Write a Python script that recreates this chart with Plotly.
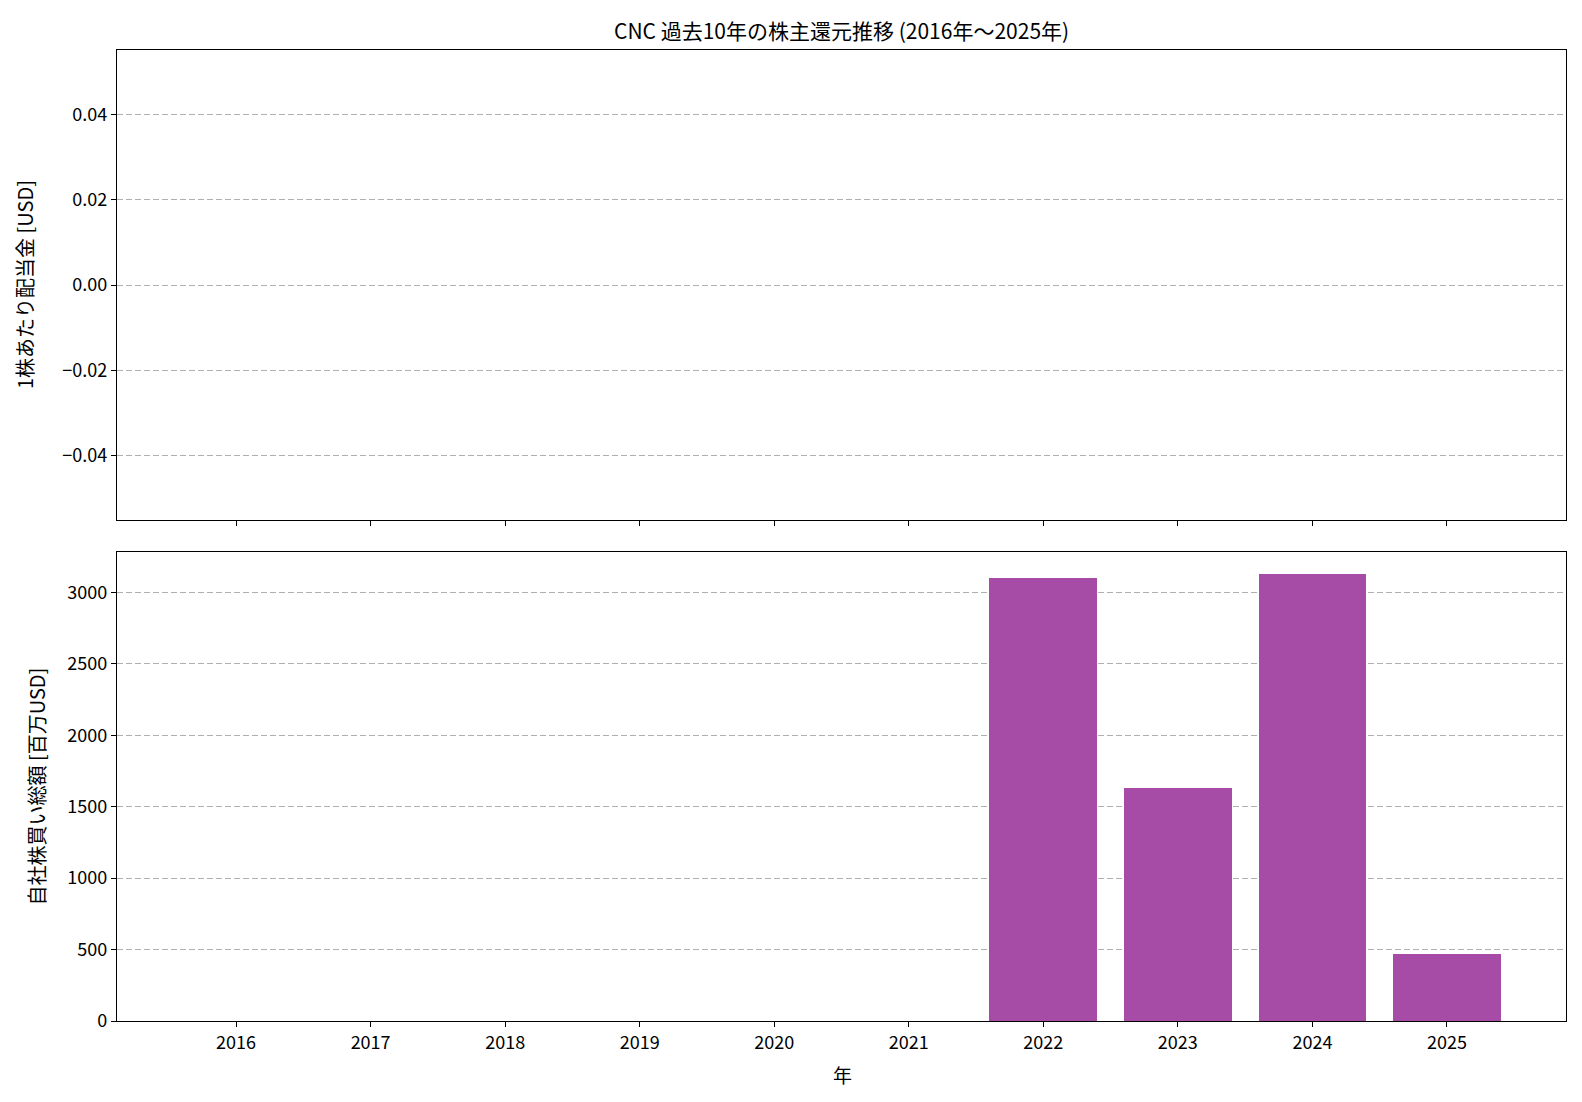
import plotly.graph_objects as go

years = [2016, 2017, 2018, 2019, 2020, 2021, 2022, 2023, 2024, 2025]
dividends_usd = [None, None, None, None, None, None, None, None, None, None]
buybacks_musd = [0, 0, 0, 0, 0, 0, 3098, 1628, 3126, 471]

title_text = "CNC 過去10年の株主還元推移 (2016年～2025年)"
y1_label = "1株あたり配当金 [USD]"
y2_label = "自社株買い総額 [百万USD]"
x_label = "年"

W, H = 1582, 1102
FONT = "Noto Sans CJK JP"
x0, x1 = 117, 1566
top_t, top_b = 50.4, 519.6
bot_t, bot_b = 552, 1021


def py(p):
    return 1 - p / H


fig = go.Figure()
fig.add_trace(go.Scatter(x=years, y=dividends_usd, mode="lines",
                         line=dict(color="#1f77b4"), xaxis="x", yaxis="y",
                         showlegend=False))
fig.add_trace(go.Bar(x=years, y=buybacks_musd, width=0.8,
                     marker=dict(color="rgb(166,76,166)", line=dict(width=0)),
                     xaxis="x2", yaxis="y2", showlegend=False))

axis_common = dict(showline=True, linecolor="black", linewidth=1.3, mirror=True,
                   ticks="outside", ticklen=5, tickwidth=1.3, tickcolor="black",
                   zeroline=False, automargin=False,
                   tickfont=dict(family=FONT, size=18, color="black"))
grid = dict(showgrid=True, gridcolor="#b0b0b0", gridwidth=1, griddash="6px,3px")

xrange = [2015.115, 2025.885]
fig.update_layout(
    width=W, height=H, margin=dict(l=0, r=0, t=0, b=0, autoexpand=False),
    paper_bgcolor="white", plot_bgcolor="white",
    font=dict(family=FONT, color="black"),
    bargap=0,
    xaxis=dict(domain=[x0 / W, x1 / W], anchor="y", range=xrange,
               tickvals=years, showticklabels=False, showgrid=False, **axis_common),
    yaxis=dict(domain=[py(top_b), py(top_t)], anchor="x", range=[-0.055, 0.055],
               tick0=0, dtick=0.02, tickformat=".2f", **grid, **axis_common),
    xaxis2=dict(domain=[x0 / W, x1 / W], anchor="y2", range=xrange, matches="x",
                tickvals=years, ticktext=[str(y) for y in years], showgrid=False,
                **axis_common),
    yaxis2=dict(domain=[py(bot_b), py(bot_t)], anchor="x2", range=[0, 3282],
                tick0=0, dtick=500, **grid, **axis_common),
    annotations=[
        dict(text=title_text, x=(x0 + x1) / 2 / W, y=py(30), xref="paper", yref="paper",
             xanchor="center", yanchor="middle", showarrow=False,
             font=dict(family=FONT, size=21, color="black")),
        dict(text=y1_label, x=25 / W, y=py((top_t + top_b) / 2), xref="paper", yref="paper",
             xanchor="center", yanchor="middle", textangle=-90, showarrow=False,
             font=dict(family=FONT, size=20, color="black")),
        dict(text=y2_label, x=36 / W, y=py((bot_t + bot_b) / 2), xref="paper", yref="paper",
             xanchor="center", yanchor="middle", textangle=-90, showarrow=False,
             font=dict(family=FONT, size=20, color="black")),
        dict(text=x_label, x=842 / W, y=py(1074), xref="paper", yref="paper",
             xanchor="center", yanchor="middle", showarrow=False,
             font=dict(family=FONT, size=19, color="black")),
    ],
)

fig.write_html("out.html")
